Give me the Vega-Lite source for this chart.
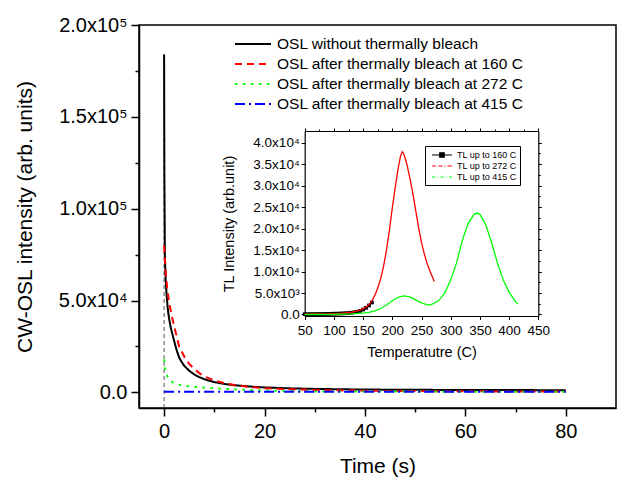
{
"$schema":"https://vega.github.io/schema/vega-lite/v6.json",
"width":477,"height":383,
"autosize":{"type":"none"},
"padding":{"left":139,"top":25,"right":1,"bottom":70},
"background":"white",
"config":{"font":"Liberation Sans","view":{"stroke":"black","strokeWidth":1.5},
"axis":{"grid":false,"domainColor":"black","tickColor":"black","labelColor":"black","titleColor":"black","titleFontWeight":"normal","labelFlush":false,"labelBound":false,"labelOverlap":false,"domainWidth":1.5,"tickWidth":1.5},
"legend":{"labelColor":"black","labelLimit":0}},
"datasets":{
"vline":[{"t":0,"v":-8500,"v2":184000}],
"main":[
{"series":"OSL without thermally bleach","t":0,"v":184000},{"series":"OSL without thermally bleach","t":0.05,"v":120000},{"series":"OSL without thermally bleach","t":0.15,"v":75000},{"series":"OSL without thermally bleach","t":0.3,"v":62000},{"series":"OSL without thermally bleach","t":0.5,"v":53000},{"series":"OSL without thermally bleach","t":0.75,"v":45000},{"series":"OSL without thermally bleach","t":1,"v":40000},{"series":"OSL without thermally bleach","t":1.35,"v":35000},{"series":"OSL without thermally bleach","t":2,"v":28000},{"series":"OSL without thermally bleach","t":2.5,"v":23000},{"series":"OSL without thermally bleach","t":3,"v":19000},{"series":"OSL without thermally bleach","t":3.5,"v":16500},{"series":"OSL without thermally bleach","t":4,"v":14500},{"series":"OSL without thermally bleach","t":5,"v":11800},{"series":"OSL without thermally bleach","t":6,"v":9800},{"series":"OSL without thermally bleach","t":7,"v":8300},{"series":"OSL without thermally bleach","t":8,"v":7200},{"series":"OSL without thermally bleach","t":9,"v":6300},{"series":"OSL without thermally bleach","t":10,"v":5600},{"series":"OSL without thermally bleach","t":12,"v":4600},{"series":"OSL without thermally bleach","t":14,"v":3900},{"series":"OSL without thermally bleach","t":17,"v":3200},{"series":"OSL without thermally bleach","t":20,"v":2700},{"series":"OSL without thermally bleach","t":25,"v":2200},{"series":"OSL without thermally bleach","t":30,"v":1900},{"series":"OSL without thermally bleach","t":35,"v":1700},{"series":"OSL without thermally bleach","t":40,"v":1550},{"series":"OSL without thermally bleach","t":50,"v":1400},{"series":"OSL without thermally bleach","t":60,"v":1300},{"series":"OSL without thermally bleach","t":70,"v":1250},{"series":"OSL without thermally bleach","t":80,"v":1200},
{"series":"OSL after thermally bleach at 160 C","t":0,"v":80000},{"series":"OSL after thermally bleach at 160 C","t":0.3,"v":66000},{"series":"OSL after thermally bleach at 160 C","t":0.6,"v":57000},{"series":"OSL after thermally bleach at 160 C","t":1,"v":49000},{"series":"OSL after thermally bleach at 160 C","t":1.5,"v":42000},{"series":"OSL after thermally bleach at 160 C","t":2,"v":36000},{"series":"OSL after thermally bleach at 160 C","t":3,"v":25000},{"series":"OSL after thermally bleach at 160 C","t":4,"v":19500},{"series":"OSL after thermally bleach at 160 C","t":5,"v":15500},{"series":"OSL after thermally bleach at 160 C","t":6,"v":12800},{"series":"OSL after thermally bleach at 160 C","t":7,"v":10500},{"series":"OSL after thermally bleach at 160 C","t":8,"v":8700},{"series":"OSL after thermally bleach at 160 C","t":10,"v":6500},{"series":"OSL after thermally bleach at 160 C","t":12,"v":5000},{"series":"OSL after thermally bleach at 160 C","t":14,"v":4000},{"series":"OSL after thermally bleach at 160 C","t":17,"v":3000},{"series":"OSL after thermally bleach at 160 C","t":20,"v":2300},{"series":"OSL after thermally bleach at 160 C","t":25,"v":1700},{"series":"OSL after thermally bleach at 160 C","t":30,"v":1300},{"series":"OSL after thermally bleach at 160 C","t":40,"v":900},{"series":"OSL after thermally bleach at 160 C","t":50,"v":700},{"series":"OSL after thermally bleach at 160 C","t":60,"v":600},{"series":"OSL after thermally bleach at 160 C","t":70,"v":500},{"series":"OSL after thermally bleach at 160 C","t":80,"v":450},
{"series":"OSL after thermally bleach at 272 C","t":0,"v":18000},{"series":"OSL after thermally bleach at 272 C","t":0.2,"v":13000},{"series":"OSL after thermally bleach at 272 C","t":0.5,"v":9500},{"series":"OSL after thermally bleach at 272 C","t":1,"v":7000},{"series":"OSL after thermally bleach at 272 C","t":1.5,"v":5800},{"series":"OSL after thermally bleach at 272 C","t":2,"v":5000},{"series":"OSL after thermally bleach at 272 C","t":3,"v":4200},{"series":"OSL after thermally bleach at 272 C","t":4,"v":3700},{"series":"OSL after thermally bleach at 272 C","t":5,"v":3300},{"series":"OSL after thermally bleach at 272 C","t":6,"v":3000},{"series":"OSL after thermally bleach at 272 C","t":8,"v":2600},{"series":"OSL after thermally bleach at 272 C","t":10,"v":2200},{"series":"OSL after thermally bleach at 272 C","t":13,"v":1800},{"series":"OSL after thermally bleach at 272 C","t":16,"v":1400},{"series":"OSL after thermally bleach at 272 C","t":20,"v":1000},{"series":"OSL after thermally bleach at 272 C","t":25,"v":700},{"series":"OSL after thermally bleach at 272 C","t":30,"v":550},{"series":"OSL after thermally bleach at 272 C","t":40,"v":450},{"series":"OSL after thermally bleach at 272 C","t":60,"v":400},{"series":"OSL after thermally bleach at 272 C","t":80,"v":400},
{"series":"OSL after thermally bleach at 415 C","t":0,"v":300},{"series":"OSL after thermally bleach at 415 C","t":80,"v":300}
],
"tl":[
{"tl":"TL up to 160 C","T":50,"I":80},{"tl":"TL up to 160 C","T":55,"I":80},{"tl":"TL up to 160 C","T":60,"I":90},{"tl":"TL up to 160 C","T":65,"I":90},{"tl":"TL up to 160 C","T":70,"I":100},{"tl":"TL up to 160 C","T":75,"I":110},{"tl":"TL up to 160 C","T":80,"I":120},{"tl":"TL up to 160 C","T":85,"I":130},{"tl":"TL up to 160 C","T":90,"I":140},{"tl":"TL up to 160 C","T":95,"I":160},{"tl":"TL up to 160 C","T":100,"I":180},{"tl":"TL up to 160 C","T":105,"I":200},{"tl":"TL up to 160 C","T":110,"I":230},{"tl":"TL up to 160 C","T":115,"I":260},{"tl":"TL up to 160 C","T":120,"I":300},{"tl":"TL up to 160 C","T":125,"I":350},{"tl":"TL up to 160 C","T":130,"I":420},{"tl":"TL up to 160 C","T":135,"I":520},{"tl":"TL up to 160 C","T":140,"I":650},{"tl":"TL up to 160 C","T":145,"I":850},{"tl":"TL up to 160 C","T":150,"I":1150},{"tl":"TL up to 160 C","T":155,"I":1550},{"tl":"TL up to 160 C","T":160,"I":2100},{"tl":"TL up to 160 C","T":165,"I":2800},
{"tl":"TL up to 272 C","T":50,"I":100},{"tl":"TL up to 272 C","T":70,"I":120},{"tl":"TL up to 272 C","T":90,"I":160},{"tl":"TL up to 272 C","T":110,"I":250},{"tl":"TL up to 272 C","T":120,"I":350},{"tl":"TL up to 272 C","T":130,"I":520},{"tl":"TL up to 272 C","T":140,"I":800},{"tl":"TL up to 272 C","T":150,"I":1300},{"tl":"TL up to 272 C","T":155,"I":1700},{"tl":"TL up to 272 C","T":160,"I":2300},{"tl":"TL up to 272 C","T":165,"I":3100},{"tl":"TL up to 272 C","T":170,"I":4400},{"tl":"TL up to 272 C","T":175,"I":6100},{"tl":"TL up to 272 C","T":180,"I":8300},{"tl":"TL up to 272 C","T":185,"I":11200},{"tl":"TL up to 272 C","T":190,"I":15000},{"tl":"TL up to 272 C","T":195,"I":19500},{"tl":"TL up to 272 C","T":200,"I":24800},{"tl":"TL up to 272 C","T":205,"I":29600},{"tl":"TL up to 272 C","T":210,"I":34000},{"tl":"TL up to 272 C","T":214,"I":36800},{"tl":"TL up to 272 C","T":217,"I":37900},{"tl":"TL up to 272 C","T":220,"I":37300},{"tl":"TL up to 272 C","T":225,"I":35000},{"tl":"TL up to 272 C","T":230,"I":31800},{"tl":"TL up to 272 C","T":235,"I":28300},{"tl":"TL up to 272 C","T":240,"I":24300},{"tl":"TL up to 272 C","T":245,"I":20300},{"tl":"TL up to 272 C","T":250,"I":16800},{"tl":"TL up to 272 C","T":255,"I":14000},{"tl":"TL up to 272 C","T":260,"I":11700},{"tl":"TL up to 272 C","T":265,"I":9900},{"tl":"TL up to 272 C","T":270,"I":8300},{"tl":"TL up to 272 C","T":272,"I":7700},
{"tl":"TL up to 415 C","T":50,"I":0},{"tl":"TL up to 415 C","T":100,"I":50},{"tl":"TL up to 415 C","T":130,"I":150},{"tl":"TL up to 415 C","T":150,"I":300},{"tl":"TL up to 415 C","T":160,"I":500},{"tl":"TL up to 415 C","T":170,"I":850},{"tl":"TL up to 415 C","T":180,"I":1400},{"tl":"TL up to 415 C","T":190,"I":2200},{"tl":"TL up to 415 C","T":200,"I":3200},{"tl":"TL up to 415 C","T":210,"I":4000},{"tl":"TL up to 415 C","T":220,"I":4350},{"tl":"TL up to 415 C","T":230,"I":4100},{"tl":"TL up to 415 C","T":240,"I":3400},{"tl":"TL up to 415 C","T":250,"I":2700},{"tl":"TL up to 415 C","T":260,"I":2250},{"tl":"TL up to 415 C","T":265,"I":2250},{"tl":"TL up to 415 C","T":270,"I":2500},{"tl":"TL up to 415 C","T":280,"I":3300},{"tl":"TL up to 415 C","T":290,"I":5000},{"tl":"TL up to 415 C","T":300,"I":8000},{"tl":"TL up to 415 C","T":310,"I":12000},{"tl":"TL up to 415 C","T":320,"I":17300},{"tl":"TL up to 415 C","T":330,"I":21200},{"tl":"TL up to 415 C","T":340,"I":23300},{"tl":"TL up to 415 C","T":345,"I":23600},{"tl":"TL up to 415 C","T":350,"I":23300},{"tl":"TL up to 415 C","T":360,"I":20900},{"tl":"TL up to 415 C","T":370,"I":16800},{"tl":"TL up to 415 C","T":380,"I":12000},{"tl":"TL up to 415 C","T":390,"I":8000},{"tl":"TL up to 415 C","T":400,"I":5200},{"tl":"TL up to 415 C","T":410,"I":3200},{"tl":"TL up to 415 C","T":415,"I":2400}
]},
"layer":[
{"layer":[
 {"data":{"name":"vline"},"mark":{"type":"rule","color":"#555555","strokeDash":[4,3],"strokeWidth":1},
  "encoding":{"x":{"field":"t","type":"quantitative"},"y":{"field":"v","type":"quantitative"},"y2":{"field":"v2"}}},
 {"data":{"name":"main"},"mark":{"type":"line","strokeWidth":2},
  "encoding":{
   "x":{"field":"t","type":"quantitative","scale":{"domain":[-5,90],"nice":false,"zero":false},
     "axis":{"orient":"bottom","values":[0,10,20,30,40,50,60,70,80],"labelExpr":"datum.value % 20 ? '' : datum.label","tickSize":{"condition":{"test":"datum.value % 20 == 0","value":8},"value":4},"labelFontSize":20,"labelPadding":5,"title":"Time (s)","titleFontSize":21,"titlePadding":14}},
   "y":{"field":"v","type":"quantitative","scale":{"domain":[-8500,200000],"nice":false,"zero":false},
     "axis":{"orient":"left","values":[0,25000,50000,75000,100000,125000,150000,175000,200000],"labelExpr":"datum.value == 0 ? '0.0' : datum.value % 50000 ? '' : format(datum.value / pow(10, floor(log(datum.value)/LN10 + 1e-9)), '.1f') + 'x10' + (floor(log(datum.value)/LN10 + 1e-9) == 4 ? '⁴' : '⁵')","tickSize":{"condition":{"test":"datum.value % 50000 == 0","value":8},"value":4},"labelFontSize":20,"labelPadding":4,"title":"CW-OSL intensity (arb. units)","titleFontSize":21,"titlePadding":23}},
   "color":{"field":"series","type":"nominal","scale":{"domain":["OSL without thermally bleach","OSL after thermally bleach at 160 C","OSL after thermally bleach at 272 C","OSL after thermally bleach at 415 C"],"range":["#000000","#ff0000","#00ff00","#0000ff"]},
     "legend":{"orient":"none","legendX":103,"legendY":8,"title":null,"labelFontSize":15.5,"labelLimit":0,"symbolType":"M-1.8,0H1.8","symbolSize":400,"symbolStrokeWidth":2,"rowPadding":0,"labelOffset":13,"padding":0}},
   "strokeDash":{"field":"series","type":"nominal","scale":{"domain":["OSL without thermally bleach","OSL after thermally bleach at 160 C","OSL after thermally bleach at 272 C","OSL after thermally bleach at 415 C"],"range":[[1,0],[7,5],[2.5,5.5],[10,4,2,4]]},
     "legend":{"orient":"none","legendX":103,"legendY":8,"title":null,"labelFontSize":15.5,"labelLimit":0,"symbolType":"M-1.8,0H1.8","symbolSize":400,"symbolStrokeWidth":2,"rowPadding":0,"labelOffset":13,"padding":0}}
  }}
]},
{"layer":[
 {"layer":[
  {"data":{"name":"tl"},"transform":[{"filter":"datum.tl == 'TL up to 160 C'"}],"mark":{"type":"line","color":"black","strokeWidth":1.5},
   "encoding":{
    "x":{"field":"T","type":"quantitative","scale":{"domain":[50,450],"range":[165.7,399.3],"nice":false,"zero":false},
      "axis":{"orient":"bottom","offset":-92,"values":[50,75,100,125,150,175,200,225,250,275,300,325,350,375,400,425,450],"labelExpr":"datum.value % 50 ? '' : datum.label","tickSize":{"condition":{"test":"datum.value % 50 == 0","value":3.5},"value":2},"tickWidth":1,"domainWidth":1.2,"labelFontSize":13.5,"labelPadding":4,"title":"Temperatutre (C)","titleFontSize":14.5,"titlePadding":8}},
    "y":{"field":"I","type":"quantitative","scale":{"domain":[-350,42700],"range":[291,106],"nice":false,"zero":false},
      "axis":{"orient":"left","offset":-165.7,"values":[0,2500,5000,7500,10000,12500,15000,17500,20000,22500,25000,27500,30000,32500,35000,37500,40000],"labelExpr":"datum.value == 0 ? '0.0' : datum.value % 5000 ? '' : format(datum.value / pow(10, floor(log(datum.value)/LN10 + 1e-9)), '.1f') + 'x10' + (floor(log(datum.value)/LN10 + 1e-9) == 3 ? '³' : '⁴')","tickSize":{"condition":{"test":"datum.value % 5000 == 0","value":3.5},"value":2},"tickWidth":1,"domainWidth":1.2,"labelFontSize":13.5,"labelPadding":2,"title":"TL Intensity (arb.unit)","titleFontSize":14.5,"titlePadding":16}}
   }},
  {"data":{"name":"tl"},"transform":[{"filter":"datum.tl == 'TL up to 160 C'"}],"mark":{"type":"point","shape":"square","filled":true,"color":"black","size":14,"opacity":1},
   "encoding":{"x":{"field":"T","type":"quantitative"},"y":{"field":"I","type":"quantitative"}}},
  {"data":{"name":"tl"},"transform":[{"filter":"datum.tl == 'TL up to 272 C'"}],"mark":{"type":"line","color":"#ff0000","strokeWidth":1.3},
   "encoding":{"x":{"field":"T","type":"quantitative"},"y":{"field":"I","type":"quantitative"}}},
  {"data":{"name":"tl"},"transform":[{"filter":"datum.tl == 'TL up to 415 C'"}],"mark":{"type":"line","color":"#00ff00","strokeWidth":1.3},
   "encoding":{"x":{"field":"T","type":"quantitative"},"y":{"field":"I","type":"quantitative"}}},
  {"data":{"name":"tl"},"transform":[{"filter":"datum.T < 0"}],"mark":{"type":"point","opacity":1,"strokeWidth":1.2},
   "encoding":{"x":{"field":"T","type":"quantitative"},"y":{"field":"I","type":"quantitative"},
    "stroke":{"field":"tl","type":"nominal","scale":{"domain":["TL up to 160 C","TL up to 272 C","TL up to 415 C"],"range":["#000000","#ff0000","#00ff00"]},
      "legend":{"orient":"none","legendX":286,"legendY":121,"title":null,"labelFontSize":9,"symbolSize":100,"symbolStrokeWidth":1.2,"rowPadding":0,"labelOffset":9,"padding":3,"symbolOffset":8,"strokeColor":"black","fillColor":"white"}},
    "fill":{"field":"tl","type":"nominal","scale":{"domain":["TL up to 160 C","TL up to 272 C","TL up to 415 C"],"range":["#000000","#ff0000","#00ff00"]},
      "legend":{"orient":"none","legendX":286,"legendY":121,"title":null,"labelFontSize":9,"symbolSize":100,"symbolStrokeWidth":1.2,"rowPadding":0,"labelOffset":9,"padding":3,"symbolOffset":8,"strokeColor":"black","fillColor":"white"}},
    "shape":{"field":"tl","type":"nominal","scale":{"domain":["TL up to 160 C","TL up to 272 C","TL up to 415 C"],"range":["M-2,0H2M-0.45,-0.45H0.45V0.45H-0.45Z","M-2,0H-1.2M-0.7,0H0.1M0.5,0H0.7M1.1,0H2","M-2,0H-1.4M-1.1,0H-1M-0.7,0H-0.6M-0.3,0H0.3M0.6,0H0.7M1,0H1.1M1.4,0H2"]},
      "legend":{"orient":"none","legendX":286,"legendY":121,"title":null,"labelFontSize":9,"symbolSize":100,"symbolStrokeWidth":1.2,"rowPadding":0,"labelOffset":9,"padding":3,"symbolOffset":8,"strokeColor":"black","fillColor":"white"}}
   }}
 ]},
 {"data":{"name":"tl"},"mark":{"type":"point","opacity":0},
  "encoding":{
   "x":{"field":"T","type":"quantitative","scale":{"domain":[50,450],"range":[165.7,399.3],"nice":false,"zero":false},
     "axis":{"orient":"top","offset":-106,"values":[50,75,100,125,150,175,200,225,250,275,300,325,350,375,400,425,450],"labels":false,"title":null,"tickSize":{"condition":{"test":"datum.value % 50 == 0","value":3},"value":2},"tickWidth":1,"domainWidth":1.2}},
   "y":{"field":"I","type":"quantitative","scale":{"domain":[-350,42700],"range":[291,106],"nice":false,"zero":false},
     "axis":{"orient":"right","offset":-77.7,"values":[0,2500,5000,7500,10000,12500,15000,17500,20000,22500,25000,27500,30000,32500,35000,37500,40000],"labels":false,"title":null,"tickSize":{"condition":{"test":"datum.value % 5000 == 0","value":3},"value":2},"tickWidth":1,"domainWidth":1.2}}
  }}
],
"resolve":{"scale":{"x":"independent","y":"independent"}}}
],
"resolve":{"scale":{"x":"independent","y":"independent"}}
}
